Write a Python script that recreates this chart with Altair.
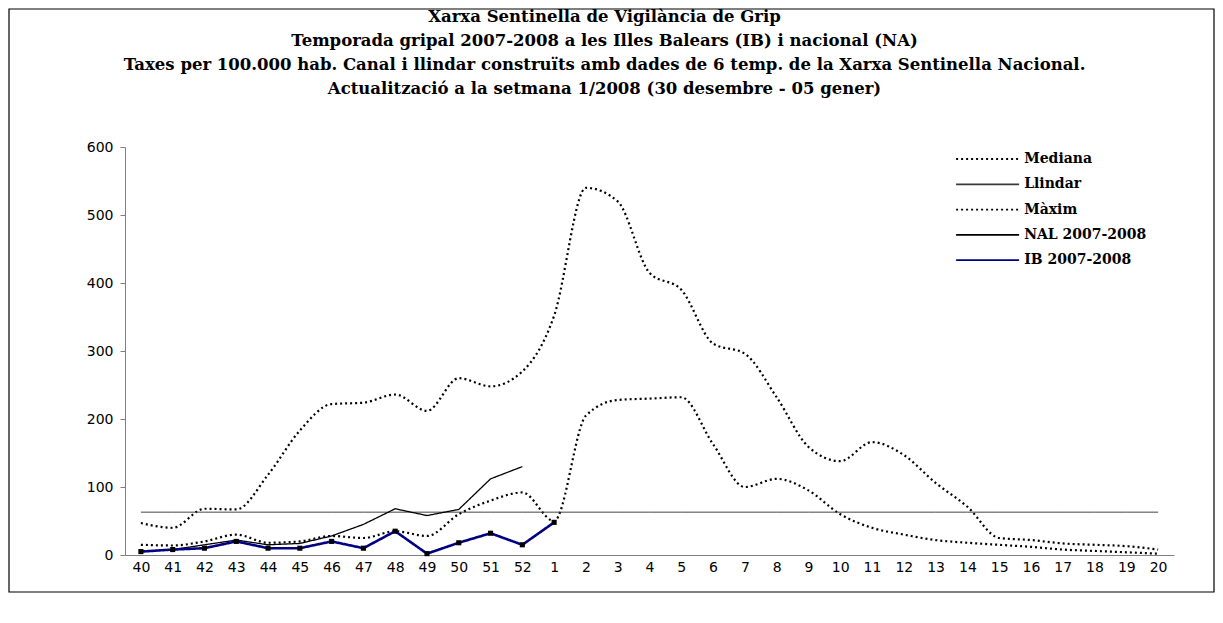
import altair as alt
import pandas as pd

weeks = ["40", "41", "42", "43", "44", "45", "46", "47", "48", "49", "50", "51", "52",
         "1", "2", "3", "4", "5", "6", "7", "8", "9", "10", "11", "12", "13", "14",
         "15", "16", "17", "18", "19", "20"]

mediana = [15, 14, 20, 30, 18, 20, 28, 25, 35, 28, 60, 80, 92,
           50, 205, 228, 230, 232, 163, 100, 112, 95, 60, 40, 30, 22, 18,
           15, 12, 8, 6, 4, 2]
maxim = [47, 40, 68, 67, 118, 183, 222, 224, 236, 212, 260, 248, 270,
         352, 540, 520, 415, 390, 311, 296, 232, 159, 138, 166, 147, 106, 71,
         25, 22, 17, 15, 13, 8]
llindar = [63, 63, 63, 63, 63, 63, 63, 63, 63, 63, 63, 63, 63,
           63, 63, 63, 63, 63, 63, 63, 63, 63, 63, 63, 63, 63, 63,
           63, 63, 63, 63, 63, 63]
nal = [5, 8, 15, 22, 15, 17, 28, 45, 68, 58, 67, 112, 130]
ib = [5, 8, 10, 20, 10, 10, 20, 10, 35, 2, 18, 32, 15, 48]

series = ["Mediana", "Llindar", "Màxim", "NAL 2007-2008", "IB 2007-2008"]
colors = ["#000000", "#3a3a3a", "#000000", "#000000", "#000080"]
dashes = [[2, 3], [1, 0], [2, 3], [1, 0], [1, 0]]

title_lines = [
    "Xarxa Sentinella de Vigilància de Grip",
    "Temporada gripal 2007-2008 a les Illes Balears (IB) i nacional (NA)",
    "Taxes per 100.000 hab.  Canal i llindar construïts amb dades de 6 temp. de la Xarxa Sentinella Nacional.",
    "Actualització a la setmana 1/2008 (30 desembre - 05 gener)",
]

rows = []
for name, vals in [("Mediana", mediana), ("Llindar", llindar), ("Màxim", maxim),
                   ("NAL 2007-2008", nal), ("IB 2007-2008", ib)]:
    for w, v in zip(weeks, vals):
        rows.append({"setmana": w, "valor": v, "serie": name})
df = pd.DataFrame(rows)

W, H = 1049, 408
PL, PT, PR, PB = 117, 139, 41, 45

x_enc = alt.X("setmana:O", sort=weeks,
              scale=alt.Scale(domain=weeks, padding=0.5),
              axis=alt.Axis(title=None, labelAngle=0, ticks=False,
                            labelFont="DejaVu Sans", labelFontSize=14,
                            labelColor="black", domainColor="#808080",
                            labelPadding=5))
y_enc = alt.Y("valor:Q", scale=alt.Scale(domain=[0, 600], nice=False),
              axis=alt.Axis(title=None, values=[0, 100, 200, 300, 400, 500, 600],
                            grid=False, tickSize=5, tickColor="#808080",
                            domainColor="#808080", labelFont="DejaVu Sans",
                            labelFontSize=14, labelColor="black", labelPadding=7))
color_enc = alt.Color("serie:N", scale=alt.Scale(domain=series, range=colors),
                      legend=alt.Legend(title=None))
dash_enc = alt.StrokeDash("serie:N", scale=alt.Scale(domain=series, range=dashes),
                          legend=alt.Legend(title=None))

base = alt.Chart(df)


def line_layer(names, width, interp):
    return base.transform_filter(
        alt.FieldOneOfPredicate(field="serie", oneOf=names)
    ).mark_line(interpolate=interp, strokeWidth=width).encode(
        x=x_enc, y=y_enc, color=color_enc, strokeDash=dash_enc, detail="serie:N")


dotted = line_layer(["Mediana", "Màxim"], 2.2, "monotone")
llindar_l = line_layer(["Llindar"], 1, "linear")
nal_l = line_layer(["NAL 2007-2008"], 1.3, "linear")
ib_l = line_layer(["IB 2007-2008"], 2.6, "linear")

points = base.transform_filter(
    alt.datum.serie == "IB 2007-2008"
).mark_point(shape="square", filled=True, size=26, opacity=1, color="black").encode(
    x=x_enc, y=y_enc)

frame = alt.Chart(alt.Data(values=[{"k": 1}])).mark_rect(
    fill="transparent", stroke="black", strokeWidth=1.2
).encode(
    x=alt.value(-PL + 1), x2=alt.value(W + PR - 1),
    y=alt.value(-PT + 1), y2=alt.value(H + PB - 8))

chart = alt.layer(frame, dotted, llindar_l, nal_l, ib_l, points).properties(
    width=W, height=H,
    padding={"left": PL, "top": PT, "right": PR, "bottom": PB},
    autosize=alt.AutoSizeParams(type="none"),
    title=alt.Title(title_lines, font="DejaVu Serif", fontSize=16.5, fontWeight="bold",
                    color="black", lineHeight=24, anchor="middle", offset=-89, dx=-45),
).configure_view(stroke=None).configure_legend(
    orient="none", legendX=853.6, legendY=3, symbolType="M-4,0H4", symbolSize=248,
    symbolStrokeWidth=1.8, symbolFillColor="transparent",
    labelFont="DejaVu Serif", labelFontSize=14,
    labelFontWeight="bold", labelColor="black", labelOffset=27.6, rowPadding=9.3,
)

chart.save("out.html", embed_options={"renderer": "svg", "actions": False})
